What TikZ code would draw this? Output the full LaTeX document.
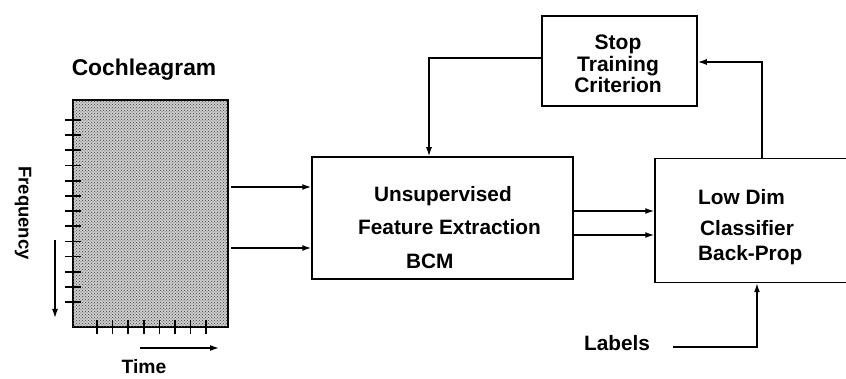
\documentclass[tikz,border=0pt]{standalone}
\usepackage{fontspec}
\setmainfont{Liberation Sans}
\usetikzlibrary{arrows.meta,patterns,calc}

\begin{document}
\begin{tikzpicture}[
    x=1pt,y=-1pt,
    font=\fontsize{20.8}{21}\selectfont\bfseries,
    box/.style={rectangle,draw,line width=1.5pt,inner sep=0pt},
    txt/.style={inner sep=0pt,anchor=west},
    tick/.style={line width=1.7pt},
    arrow/.style={line width=1.4pt,->,>={Latex[length=9pt,width=6pt]}}
]
    \useasboundingbox (0,0) rectangle (846,379);

    % Cochleagram panel
    \node[box,minimum width=155pt,minimum height=227pt,fill=gray!40,
          postaction={pattern=crosshatch dots,pattern color=black!75}] (coch) at (150.5,213.5) {};
    \foreach \k in {0,...,12} {
        \draw[tick] (65,{120+15.17*\k}) -- (81,{120+15.17*\k});
    }
    \foreach \k in {0,...,7} {
        \draw[tick] ({97+15.6*\k},320) -- ({97+15.6*\k},334);
    }
    \node[font=\fontsize{22.8}{23}\selectfont\bfseries] (cochlbl) at (144,70) {Cochleagram};
    \node[rotate=-90,font=\fontsize{18.5}{19}\selectfont\bfseries] (freq) at (23,213) {Frequency};
    \node[font=\fontsize{19.3}{20}\selectfont\bfseries] (time) at (144,367) {Time};
    \coordinate (ftop) at (55,240);
    \coordinate (fbot) at (55,318);
    \coordinate (tleft) at (140,348);
    \coordinate (tright) at (219,348);
    \draw[arrow] (ftop) -- (fbot);
    \draw[arrow] (tleft) -- (tright);

    % Processing blocks
    \node[box,minimum width=261pt,minimum height=122pt] (bcm) at (442.5,218) {};
    \node[txt] (bcm1) at (374,196) {Unsupervised};
    \node[txt] (bcm2) at (358,227) {Feature Extraction};
    \node[txt] (bcm3) at (406,261) {BCM};

    \node[box,minimum width=200pt,minimum height=124pt] (cls) at (755,220.5) {};
    \node[txt] (cls1) at (698,197) {Low Dim};
    \node[txt] (cls2) at (700,228) {Classifier};
    \node[txt] (cls3) at (698,255) {Back-Prop};

    \node[box,minimum width=155pt,minimum height=90pt,align=center,
          font=\fontsize{21}{21.5}\selectfont\bfseries] (stop) at (619.5,61) {};
    \node[align=center,inner sep=0pt,font=\fontsize{21}{21.5}\selectfont\bfseries]
          (stoptxt) at (618,64) {Stop\\Training\\Criterion};

    \node (lab) at (617,343) {Labels};

    % Connections
    \draw[arrow] ([xshift=2pt,yshift=26.5pt]coch.east) -- ([yshift=26.5pt]coch.east -| bcm.west);
    \draw[arrow] ([xshift=2pt,yshift=-34.5pt]coch.east) -- ([yshift=-34.5pt]coch.east -| bcm.west);
    \draw[arrow] ([yshift=7pt]bcm.east) -- ([yshift=7pt]bcm.east -| cls.west);
    \draw[arrow] ([yshift=-17pt]bcm.east) -- ([yshift=-17pt]bcm.east -| cls.west);
    \draw[arrow] ([yshift=3pt]stop.west) -| ([xshift=-13.5pt]bcm.north);
    \draw[arrow] ([xshift=7pt]cls.north) |- ([yshift=-1pt]stop.east);
    \draw[arrow] ([xshift=20pt,yshift=-4pt]lab.east) -| ([xshift=2pt]cls.south);
\end{tikzpicture}
\end{document}
